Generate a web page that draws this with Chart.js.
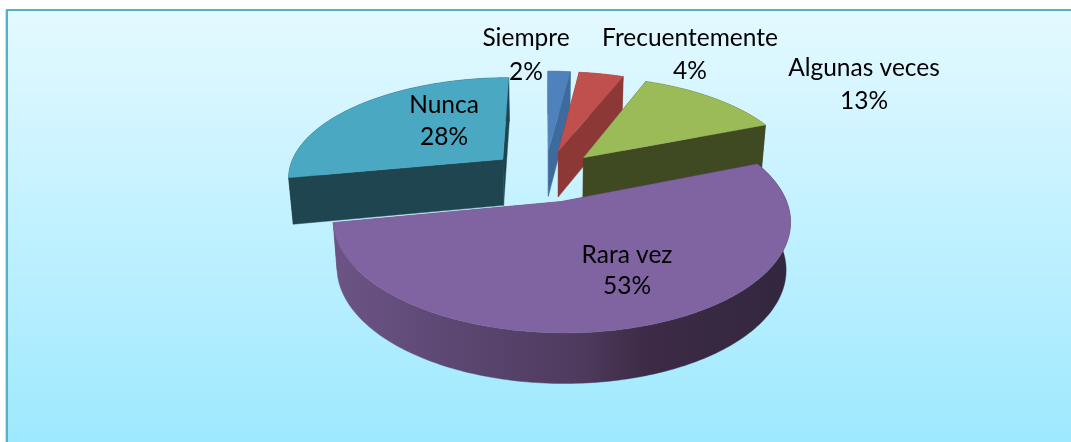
<!DOCTYPE html>
<html><head><meta charset="utf-8">
<style>html,body{margin:0;padding:0;background:#fff;overflow:hidden}canvas{display:block}</style>
<script src="https://cdn.jsdelivr.net/npm/chart.js@4/dist/chart.umd.js"></script>
</head><body><canvas id="c" width="1071" height="442"></canvas>
<script>
// data
const categories = ["Siempre","Frecuentemente","Algunas veces","Rara vez","Nunca"];
const percentages = [2,4,13,53,28];
// styles
const topColors = ["#4f81bd","#c0504d","#9bbb59","#8064a2","#4aa8c2"];
const wallColors = ["#3e6a9c","#8c3836","#3f4a23",null,"#1f4550"];
const labelAnchors = [[526,38,34],[690,38,33],[864,68,33],[627,255,31],[444,105,32]];
// view
const V = {X0:545,Y0:175.5,R:216,S:100,P:0.165,D:46.5,PD:0.065,SHRINK:0.018,EXPLODE:0.26};
function project(u,v,h){
  const w=1-V.P*v;
  const k=1-V.SHRINK*h;
  return [V.X0+k*V.R*u/w, V.Y0+V.S*v/w+h*V.D/(1-V.PD*v)];
}
function purpleWall(ctx){
  const g=ctx.createLinearGradient(332,0,790,0);
  [[0,"#6c5586"],[0.25,"#5d4874"],[0.55,"#4e3a5c"],[0.68,"#3d2b47"],[1,"#32273e"]].forEach(s=>g.addColorStop(s[0],s[1]));
  return g;
}
class Arc3D extends Chart.ArcElement{
  static id='arc3d';
  draw(ctx){
    const {startAngle:a0,endAngle:a1}=this.getProps(['startAngle','endAngle'],true);
    const mid=(a0+a1)/2, ou=V.EXPLODE*Math.cos(mid), ov=V.EXPLODE*Math.sin(mid);
    const n=Math.max(4,Math.ceil((a1-a0)/0.01745));
    const rim=h=>{const r=[];for(let i=0;i<=n;i++){const a=a0+(a1-a0)*i/n;r.push(project(ou+Math.cos(a),ov+Math.sin(a),h));}return r;};
    const apex=h=>project(ou,ov,h);
    const poly=(pts,fill)=>{ctx.beginPath();pts.forEach((p,i)=>i?ctx.lineTo(p[0],p[1]):ctx.moveTo(p[0],p[1]));ctx.closePath();ctx.fillStyle=fill;ctx.strokeStyle=fill;ctx.lineWidth=0.4;ctx.fill();ctx.stroke();};
    const t=rim(0), b=rim(1), wall=this.wall||purpleWall(ctx);
    ctx.save();
    poly([apex(0),t[0],b[0],apex(1)],wall);
    poly([apex(0),t[n],b[n],apex(1)],wall);
    poly(t.concat(b.slice().reverse()),wall);
    poly([apex(0)].concat(t),this.options.backgroundColor);
    ctx.restore();
  }
}
class Pie3D extends Chart.DoughnutController{
  static id='pie3d';
  static defaults={dataElementType:'arc3d'};
  draw(){
    const ctx=this.chart.ctx, els=this.getMeta().data;
    const order=els.map((e,i)=>i).sort((i,j)=>Math.sin((els[i].startAngle+els[i].endAngle)/2)-Math.sin((els[j].startAngle+els[j].endAngle)/2));
    order.forEach(i=>{els[i].wall=wallColors[i];els[i].draw(ctx);});
  }
}
Chart.register(Arc3D,Pie3D);
const panel={id:'panel',beforeDraw(ch){
  const c=ch.ctx;c.save();
  c.fillStyle='#fff';c.fillRect(0,0,1071,442);
  c.fillStyle='#d9dde0';c.fillRect(5,10,2,432);
  const g=c.createLinearGradient(0,10,0,442);
  g.addColorStop(0,'#e4f9ff');g.addColorStop(1,'#9ee9ff');
  c.fillStyle=g;c.fillRect(7,10,1064,432);
  c.fillStyle='#55b1c9';c.fillRect(6,9,1065,2);c.fillRect(6,9,2,433);
  c.restore();
}};
const labels={id:'sliceLabels',afterDatasetsDraw(ch){
  const c=ch.ctx;c.save();
  c.font='24.5px Lato';c.fillStyle='#000';c.textAlign='center';c.textBaseline='middle';
  categories.forEach((name,i)=>{const a=labelAnchors[i];c.fillText(name,a[0],a[1]);c.fillText(percentages[i]+'%',a[0],a[1]+a[2]);});
  c.restore();
}};
new Chart(document.getElementById('c'),{
  type:'pie3d',
  data:{labels:categories,datasets:[{data:percentages,backgroundColor:topColors,borderWidth:0}]},
  options:{responsive:false,animation:false,rotation:0,plugins:{legend:{display:false},tooltip:{enabled:false}},layout:{padding:0},events:[]},
  plugins:[panel,labels]
});
</script></body></html>
